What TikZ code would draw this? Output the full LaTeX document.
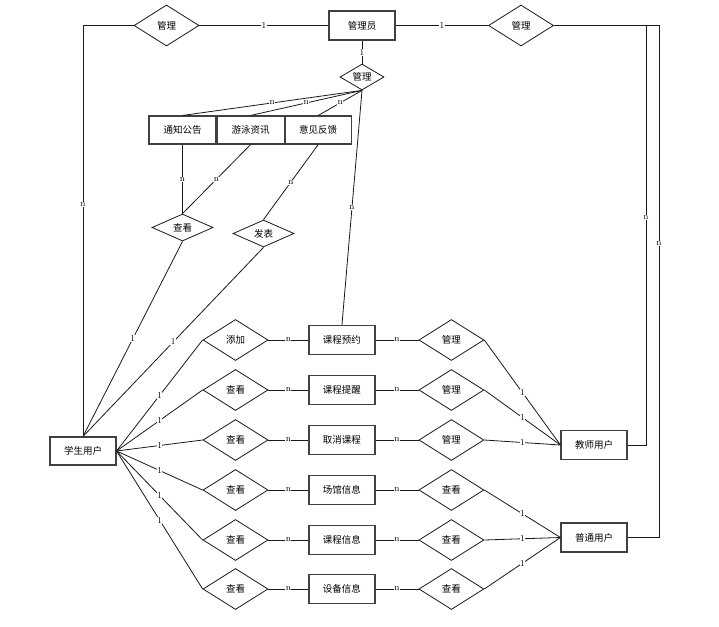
\documentclass[tikz,border=0pt]{standalone}
\usepackage{fontspec}
\newfontfamily\cjk{Noto Sans CJK SC}
\usetikzlibrary{shapes.geometric,positioning}

\begin{document}
\begin{tikzpicture}[x=1pt, y=-1pt, node distance=40pt,
  every path/.style={line width=0.8pt},
  ent/.style={draw=black!75, line width=1.1pt, rectangle, minimum width=66pt, minimum height=29pt, inner sep=0pt, font=\cjk\fontsize{9.5}{11}\selectfont},
  rel/.style={draw=black!90, line width=0.8pt, diamond, aspect=1.6, minimum width=65pt, minimum height=41pt, inner sep=0pt, font=\cjk\fontsize{9.5}{11}\selectfont},
  lab/.style={fill=white, inner sep=0.5pt, font=\fontsize{9}{9}\selectfont}]
	\useasboundingbox (0,0) rectangle (719,626);

	% top: admin and its relations
	\node[ent] (admin) at (362,25.5) {管理员};
	\node[rel] (mL) at (166.5,25.5) {管理};
	\node[rel] (mR) at (521,25.5) {管理};
	\node[rel, minimum width=44pt, minimum height=26pt] (mA) at (362,77) {管理};

	\node[ent, minimum width=67pt, minimum height=28pt] (notice) at (182.5,130) {通知公告};
	\node[ent, minimum width=67pt, minimum height=28pt, right=0pt of notice] (swim) {游泳资讯};
	\node[ent, minimum width=66pt, minimum height=28pt, right=0pt of swim] (advice) {意见反馈};

	\node[rel, minimum width=61pt, minimum height=27pt] (view) at (182.5,227.5) {查看};
	\node[rel, minimum width=61pt, minimum height=27pt] (post) at (263.5,233.5) {发表};

	% users
	\node[ent, minimum height=28pt] (student) at (83,451) {学生用户};
	\node[ent] (teacher) at (594,445) {教师用户};
	\node[ent] (user) at (594,537.5) {普通用户};

	% rows
	\node[rel] (d1) at (235.5,340) {添加};
	\node[rel] (d2) at (235.5,390) {查看};
	\node[rel] (d3) at (235.5,440) {查看};
	\node[rel] (d4) at (235.5,490) {查看};
	\node[rel] (d5) at (235.5,540) {查看};
	\node[rel] (d6) at (235.5,589) {查看};

	\node[ent, right=of d1] (e1) {课程预约};
	\node[ent, right=of d2] (e2) {课程提醒};
	\node[ent, right=of d3] (e3) {取消课程};
	\node[ent, right=of d4] (e4) {场馆信息};
	\node[ent, right=of d5] (e5) {课程信息};
	\node[ent, right=of d6] (e6) {设备信息};

	\node[rel, right=43pt of e1] (r1) {管理};
	\node[rel, right=43pt of e2] (r2) {管理};
	\node[rel, right=43pt of e3] (r3) {管理};
	\node[rel, right=43pt of e4] (r4) {查看};
	\node[rel, right=43pt of e5] (r5) {查看};
	\node[rel, right=43pt of e6] (r6) {查看};

	\coordinate (tc) at (646,25.5);
	\coordinate (uc) at (659,25.5);

	\path [-, draw=black!90]
		(admin) edge node[lab] {1} (mL)
		(admin) edge node[lab] {1} (mR)
		(admin) edge node[lab] {1} (mA)
		(mA.south) edge node[lab] {n} (notice.north)
		(mA.south) edge node[lab] {n} (swim.north)
		(mA.south) edge node[lab] {n} (advice.north)
		(mA.south) edge node[lab] {n} (e1.north)
		(notice.south) edge node[lab] {n} (view.north)
		(swim.south) edge node[lab] {n} (view.north)
		(advice.south) edge node[lab] {n} (post.north)
		(view.south) edge node[lab] {1} (student.north)
		(post.south) edge node[lab] {1} (student.north)
		(student.east) edge node[lab] {1} (d1.west)
		(student.east) edge node[lab] {1} (d2.west)
		(student.east) edge node[lab] {1} (d3.west)
		(student.east) edge node[lab] {1} (d4.west)
		(student.east) edge node[lab] {1} (d5.west)
		(student.east) edge node[lab] {1} (d6.west)
		(d1) edge node[lab] {n} (e1)
		(d2) edge node[lab] {n} (e2)
		(d3) edge node[lab] {n} (e3)
		(d4) edge node[lab] {n} (e4)
		(d5) edge node[lab] {n} (e5)
		(d6) edge node[lab] {n} (e6)
		(e1) edge node[lab] {n} (r1)
		(e2) edge node[lab] {n} (r2)
		(e3) edge node[lab] {n} (r3)
		(e4) edge node[lab] {n} (r4)
		(e5) edge node[lab] {n} (r5)
		(e6) edge node[lab] {n} (r6)
		(r1.east) edge node[lab] {1} (teacher.west)
		(r2.east) edge node[lab] {1} (teacher.west)
		(r3.east) edge node[lab] {1} (teacher.west)
		(r4.east) edge node[lab] {1} (user.west)
		(r5.east) edge node[lab] {1} (user.west)
		(r6.east) edge node[lab] {1} (user.west)
	;

	% long elbows
	\draw[black!90] (mL.west) -| node[lab, pos=0.718] {n} (student.north);
	\draw[black!90] (mR.east) -- (uc) |- node[lab, pos=0.213] {n} (user.east);
	\draw[black!90] (mR.east) -- (tc) |- node[lab, pos=0.229] {n} (teacher.east);
\end{tikzpicture}
\end{document}
